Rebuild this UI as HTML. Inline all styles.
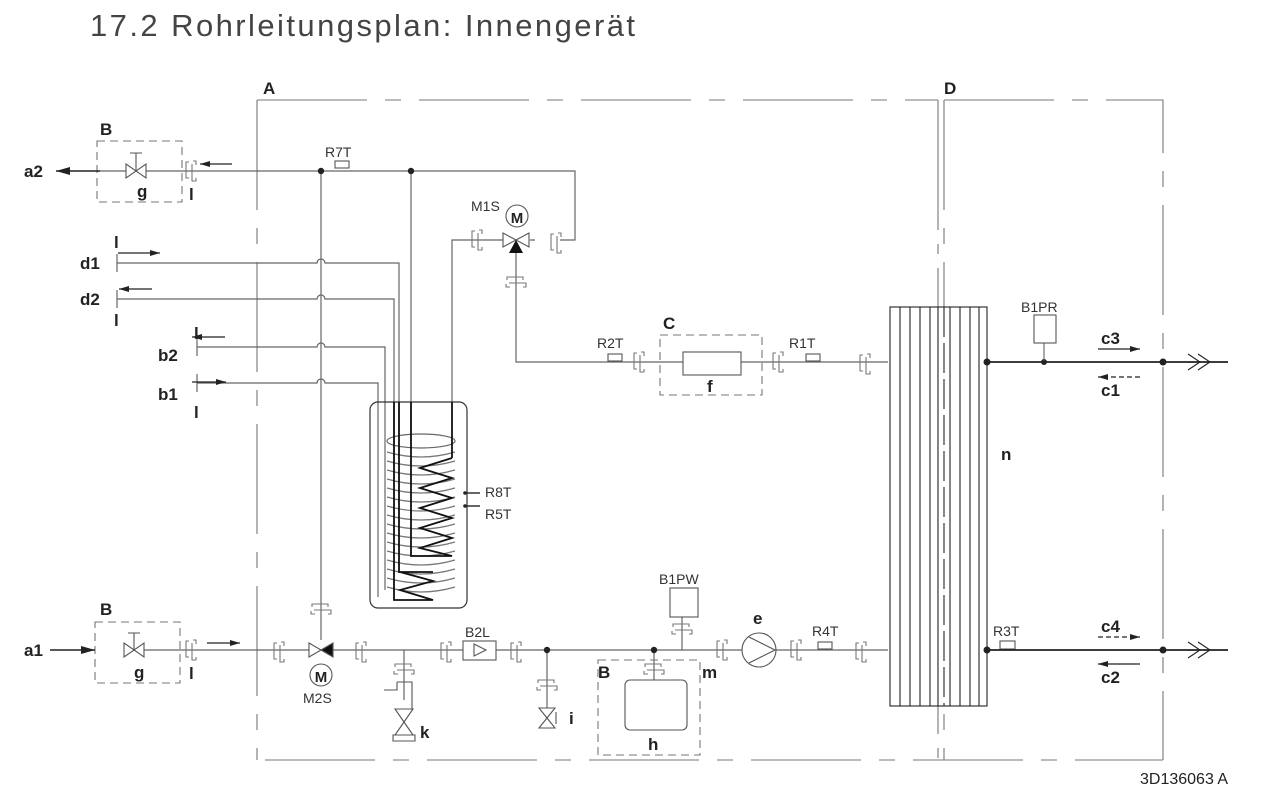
<!DOCTYPE html>
<html><head><meta charset="utf-8"><style>
html,body{margin:0;padding:0;background:#fff;}
svg{display:block;}
text{font-family:"Liberation Sans",Arial,sans-serif;fill:#222;}
.b{font-weight:bold;font-size:17px;}
.s{font-size:14px;fill:#333;}
</style></head><body>
<svg width="1279" height="798" viewBox="0 0 1279 798" xmlns="http://www.w3.org/2000/svg">
<defs>
<g id="cv" fill="none" stroke="#777" stroke-width="1.1">
<path d="M-3,-9 h-3 v16 h3"/><path d="M0,-7 v17 h4 v-3 M1,-10 h3 v4"/>
</g>
<g id="ch" fill="none" stroke="#777" stroke-width="1.1">
<path d="M-9,-3 v-3 h16 v3"/><path d="M-7,0 h17 v4 h-3 M-10,1 v3 h4"/>
</g>
<marker id="ar" viewBox="0 0 10 6" refX="10" refY="3" markerWidth="10" markerHeight="6" markerUnits="userSpaceOnUse" orient="auto"><path d="M0,0 L10,3 L0,6Z" fill="#222"/></marker>
<marker id="ar2" viewBox="0 0 14 8" refX="14" refY="4" markerWidth="14" markerHeight="8" markerUnits="userSpaceOnUse" orient="auto"><path d="M0,0 L14,4 L0,8Z" fill="#222"/></marker>
</defs>

<text x="90" y="36" textLength="545" lengthAdjust="spacing" style="font-size:31px;fill:#444">17.2  Rohrleitungsplan: Innengerät</text>

<!-- boundaries -->
<g fill="none" stroke="#777" stroke-width="1.1">
<path d="M257,100 H938" stroke-dasharray="110,18,16,18"/>
<path d="M257,100 V760" stroke-dasharray="110,18,16,18"/>
<path d="M938,100 V760" stroke-dasharray="130,14,10,14"/>
<path d="M944,100 V760" stroke-dasharray="110,18,16,18"/>
<path d="M944,100 H1163 V760" stroke-dasharray="110,18,16,18"/>
<path d="M265,760 H1163" stroke-dasharray="110,18,16,18"/>
<g stroke-dasharray="8,5">
<rect x="97" y="141" width="85" height="61"/>
<rect x="95" y="622" width="85" height="61"/>
<rect x="660" y="335" width="102" height="60"/>
<rect x="598" y="660" width="102" height="95"/>
</g>
</g>
<text x="263" y="94" class="b">A</text>
<text x="944" y="94" class="b">D</text>
<text x="100" y="135" class="b">B</text>
<text x="100" y="615" class="b">B</text>
<text x="663" y="329" class="b">C</text>
<text x="598" y="678" class="b">B</text>

<!-- pipes -->
<g fill="none" stroke="#666" stroke-width="1.2">
<path d="M100,171 H126 M146,171 H575 V240 H560 M535,240 H530"/>
<path d="M503,240 H452 V402"/>
<path d="M516,252 V362 H888"/>
<path d="M321,171 V640"/>
<path d="M411,171 V556"/>
<path d="M117,263 H317 a4,4 0 0 1 8,0 H399 V573"/>
<path d="M117,299 H317 a4,4 0 0 1 8,0 H394 V600"/>
<path d="M197,347 H317 a4,4 0 0 1 8,0 H385 V590"/>
<path d="M197,383 H317 a4,4 0 0 1 8,0 H378 V597"/>
<path d="M117,254 V272 M117,290 V308 M197,338 V356 M197,374 V392"/>
<path d="M180,650 H126 M146,650 H888"/>
<path d="M404,650 V700 M547,650 V708 M654,650 V680 M682,617 V650"/>
</g>
<!-- tank -->
<g fill="none" stroke="#333" stroke-width="1.2">
<rect x="370" y="402" width="97" height="206" rx="8"/>
<ellipse cx="421" cy="441" rx="34" ry="7" stroke="#666"/>
<g stroke="#777">
<path d="M387,452 q34,10 68,0 M387,461 q34,10 68,0 M387,470 q34,10 68,0 M387,479 q34,10 68,0 M387,488 q34,10 68,0 M387,497 q34,10 68,0 M387,506 q34,10 68,0 M387,515 q34,10 68,0 M387,524 q34,10 68,0 M387,533 q34,10 68,0 M387,542 q34,10 68,0 M387,551 q34,10 68,0 M387,560 q34,10 68,0 M387,569 q34,10 68,0 M387,578 q34,10 68,0 M387,587 q34,10 68,0"/>
</g>
<g stroke="#111" stroke-width="1.8">
<path d="M394,402 V600 H433 L400,590 L433,581 L400,572 H433"/>
<path d="M399,402 V573"/>
<path d="M411,402 V556 H452 L420,548 L452,538 L420,528 L452,518 L420,508 L452,498 L420,488 L452,478 L420,468 L452,458"/>
<path d="M452,402 V458"/>
</g>
<path d="M465,493 H480 M465,506 H480" stroke-width="1.4"/>
</g>
<circle cx="465" cy="493" r="1.8" fill="#222"/><circle cx="465" cy="506" r="1.8" fill="#222"/>
<text x="485" y="497" class="s">R8T</text>
<text x="485" y="519" class="s">R5T</text>

<!-- heat exchanger -->
<g fill="none" stroke="#222" stroke-width="1.1">
<rect x="890" y="307" width="97" height="399" fill="#fff"/>
<path d="M900,307V706 M910,307V706 M920,307V706 M930,307V706 M938,307V706 M950,307V706 M960,307V706 M970,307V706 M979,307V706"/>
<path d="M944,307V706" stroke-dasharray="30,6"/>
</g>

<!-- junction dots -->
<g fill="#222">
<circle cx="321" cy="171" r="3.2"/><circle cx="411" cy="171" r="3.2"/>
<circle cx="547" cy="650" r="3.2"/><circle cx="654" cy="650" r="3.2"/>
<circle cx="987" cy="362" r="3.5"/><circle cx="1044" cy="362" r="3"/><circle cx="1163" cy="362" r="3.5"/>
<circle cx="987" cy="650" r="3.5"/><circle cx="1163" cy="650" r="3.5"/>
</g>

<!-- connectors -->
<use href="#cv" x="192" y="171"/><use href="#cv" x="478" y="240"/><use href="#cv" x="557" y="243"/>
<use href="#ch" x="516" y="283"/>
<use href="#cv" x="640" y="362"/><use href="#cv" x="779" y="362"/><use href="#cv" x="866" y="364"/>
<use href="#cv" x="192" y="650"/><use href="#cv" x="280" y="652"/><use href="#cv" x="362" y="652"/>
<use href="#cv" x="447" y="652"/><use href="#cv" x="517" y="652"/>
<use href="#cv" x="723" y="650"/><use href="#cv" x="797" y="650"/><use href="#cv" x="862" y="652"/>
<use href="#ch" x="321" y="610"/><use href="#ch" x="404" y="670"/><use href="#ch" x="547" y="686"/>
<use href="#ch" x="682" y="630"/><use href="#ch" x="654" y="670"/>

<!-- valves -->
<g fill="#fff" stroke="#555" stroke-width="1.1">
<path d="M126,164 L146,178 V164 L126,178Z"/><path d="M136,171 V153 M130,153 H142" fill="none"/>
<path d="M124,643 L144,657 V643 L124,657Z"/><path d="M134,650 V633 M128,633 H140" fill="none"/>
<path d="M503,233 L516,240 L503,247Z M529,233 L516,240 L529,247Z"/>
<circle cx="517" cy="216" r="11"/>
<path d="M309,643 L321,650 L309,657Z"/><path d="M333,643 L321,650 L333,657Z" fill="#111"/>
<circle cx="321" cy="675" r="11"/>
<path d="M395,709 L413,709 L395,735 L413,735Z M393,735 H415 V741 H393Z"/>
<path d="M397,682 H412 V709 M397,682 V690 H384" fill="none"/>
<path d="M539,708 L555,708 L539,728 L555,728Z M556,712 V724"/>
<rect x="463" y="641" width="33" height="19"/>
<path d="M474,644 L486,650 L474,656Z"/>
<rect x="683" y="352" width="58" height="23"/>
<rect x="625" y="680" width="62" height="50" rx="5"/>
<rect x="670" y="588" width="28" height="29"/>
<rect x="1034" y="315" width="22" height="28"/>
<circle cx="759" cy="650" r="17"/>
<path d="M749,637 L775,650 L749,663"/>
<rect x="608" y="354" width="14" height="7"/><rect x="806" y="354" width="14" height="7"/>
<rect x="335" y="161" width="14" height="7"/><rect x="818" y="642" width="14" height="7"/>
<rect x="1000" y="641" width="15" height="8"/>
</g>
<path d="M516,240 L509,253 H523Z" fill="#111"/>
<path d="M1044,343 V362" stroke="#555"/>
<text x="517" y="223" text-anchor="middle" style="font-size:15px;font-weight:bold">M</text>
<text x="321" y="682" text-anchor="middle" style="font-size:15px;font-weight:bold">M</text>

<g fill="none" stroke="#222" stroke-width="1.8">
<path d="M987,362 H1228 M987,650 H1228"/>
</g>
<g fill="none" stroke="#222" stroke-width="1.1">
<path d="M1188,354 L1200,362 L1188,370 M1198,354 L1210,362 L1198,370"/>
<path d="M1188,642 L1200,650 L1188,658 M1198,642 L1210,650 L1198,658"/>
</g>

<!-- arrows -->
<g stroke="#222" stroke-width="1.2" fill="none">
<path d="M100,171 H56" stroke-width="1.6" marker-end="url(#ar2)"/>
<path d="M50,650 H95" stroke-width="1.6" marker-end="url(#ar2)"/>
<path d="M232,164 H200" marker-end="url(#ar)"/>
<path d="M207,643 H240" marker-end="url(#ar)"/>
<path d="M118,253 H160" marker-end="url(#ar)"/>
<path d="M152,289 H119" marker-end="url(#ar)"/>
<path d="M225,337 H192" marker-end="url(#ar)"/>
<path d="M192,382 H226" marker-end="url(#ar)"/>
<path d="M1098,349 H1140" marker-end="url(#ar)"/>
<path d="M1140,377 H1098" stroke-dasharray="5,3" marker-end="url(#ar)"/>
<path d="M1098,637 H1140" stroke-dasharray="5,3" marker-end="url(#ar)"/>
<path d="M1140,664 H1098" marker-end="url(#ar)"/>
</g>

<!-- labels -->
<text x="24" y="177" class="b">a2</text>
<text x="24" y="656" class="b">a1</text>
<text x="80" y="269" class="b">d1</text>
<text x="80" y="305" class="b">d2</text>
<text x="158" y="361" class="b">b2</text>
<text x="158" y="400" class="b">b1</text>
<text x="114" y="248" class="b">l</text>
<text x="114" y="326" class="b">l</text>
<text x="194" y="339" class="b">l</text>
<text x="194" y="418" class="b">l</text>
<text x="189" y="200" class="b">l</text>
<text x="189" y="679" class="b">l</text>
<text x="137" y="197" class="b">g</text>
<text x="134" y="678" class="b">g</text>
<text x="707" y="392" class="b">f</text>
<text x="648" y="750" class="b">h</text>
<text x="702" y="678" class="b">m</text>
<text x="753" y="624" class="b">e</text>
<text x="420" y="738" class="b">k</text>
<text x="569" y="724" class="b">i</text>
<text x="1001" y="460" class="b">n</text>
<text x="1101" y="344" class="b">c3</text>
<text x="1101" y="396" class="b">c1</text>
<text x="1101" y="632" class="b">c4</text>
<text x="1101" y="683" class="b">c2</text>
<text x="325" y="157" class="s">R7T</text>
<text x="471" y="211" class="s">M1S</text>
<text x="303" y="703" class="s">M2S</text>
<text x="465" y="637" class="s">B2L</text>
<text x="659" y="584" class="s">B1PW</text>
<text x="597" y="348" class="s">R2T</text>
<text x="789" y="348" class="s">R1T</text>
<text x="812" y="636" class="s">R4T</text>
<text x="993" y="636" class="s">R3T</text>
<text x="1021" y="312" class="s">B1PR</text>
<text x="1140" y="784" style="font-size:16px;fill:#222">3D136063 A</text>
</svg>
</body></html>
